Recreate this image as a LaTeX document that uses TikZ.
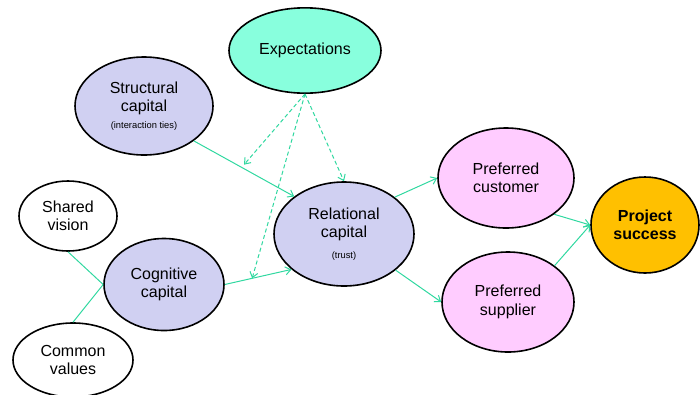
\documentclass[tikz,border=0pt]{standalone}
\usepackage{fontspec}
\setmainfont{Liberation Sans}
\usetikzlibrary{shapes.geometric,arrows.meta}
\definecolor{expfill}{RGB}{136,255,221}
\definecolor{capfill}{RGB}{208,208,242}
\definecolor{preffill}{RGB}{255,204,255}
\definecolor{goalfill}{RGB}{255,192,0}
\definecolor{link}{RGB}{48,216,160}
\tikzset{
  bubble/.style={ellipse, draw=black, line width=1.2pt, inner sep=0pt, align=center,
    font=\fontsize{12}{13.8}\selectfont},
  sz/.style 2 args={minimum width=#1pt, minimum height=#2pt},
  flow/.style={draw=link, line width=0.75pt, -{Straight Barb[length=4pt,width=6pt]}},
  tie/.style={draw=link, line width=0.75pt},
  moderate/.style={draw=link, line width=0.75pt, dash pattern=on 3pt off 2pt,
    -{Straight Barb[length=4pt,width=6pt]}},
}
\begin{document}
\begin{tikzpicture}[x=0.75pt, y=-0.75pt]
  \useasboundingbox (0,0) rectangle (700,394);

  % concepts
  \node[bubble, fill=expfill, sz={114}{64}] (exp) at (305,50.5) {Expectations};
  \node[bubble, fill=capfill, sz={103.5}{73.5}] (struct) at (144,106)
    {Structural\\capital\\[-1pt]{\fontsize{7}{8}\selectfont(interaction ties)}};
  \node[bubble, fill=capfill, sz={105}{78}] (rel) at (344,234)
    {Relational\\capital\\[2pt]{\fontsize{7}{8}\selectfont(trust)}};
  \node[bubble, fill=capfill, sz={90}{69}] (cog) at (164,284.5) {Cognitive\\capital};
  \node[bubble, fill=white, sz={73.5}{52.5}] (vis) at (68,216) {Shared\\vision};
  \node[bubble, fill=white, sz={90}{55.5}] (val) at (73,360) {Common\\values};
  \node[bubble, fill=preffill, sz={102}{75}] (cust) at (506,178) {Preferred\\customer};
  \node[bubble, fill=preffill, sz={99}{75}] (supp) at (508,302) {Preferred\\supplier};
  \node[bubble, fill=goalfill, sz={81}{72}, font=\fontsize{12}{13.8}\selectfont\bfseries]
    (proj) at (645,225) {Project\\success};

  % relations
  \path[flow] (struct.-35) -- coordinate[pos=0.5] (m1) (rel.143);
  \path[flow] (cog.0) -- coordinate[pos=0.41] (m2) (rel.214);
  \path[tie] (vis.south) -- (cog.west);
  \path[tie] (val.north) -- (cog.west);
  \path[flow] (rel.36) -- (cust.180);
  \path[flow] (rel.-35) -- (supp.180);
  \path[flow] (cust.-37) -- (proj.180);
  \path[flow] (supp.38) -- (proj.180);

  % moderating effects of expectations
  \path[moderate] (exp.south) -- ([yshift=3pt]m1);
  \path[moderate] (exp.south) -- (rel.north);
  \path[moderate] (exp.south) -- (m2);
\end{tikzpicture}
\end{document}
